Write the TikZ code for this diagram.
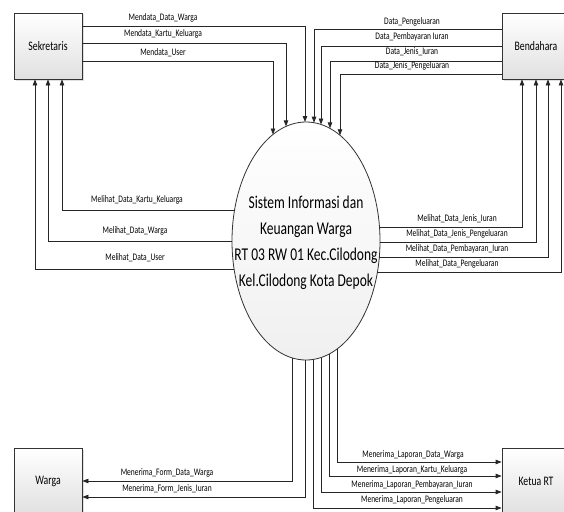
\documentclass[tikz,border=0pt]{standalone}
\usepackage{fontspec}
\setmainfont{Carlito}[FakeStretch=0.75]
\usetikzlibrary{arrows.meta,shapes.geometric,shadows}
\begin{document}
\begin{tikzpicture}[x=1pt,y=-1pt,
  ent/.style={draw=black!80, line width=0.8pt, top color=white, bottom color=black!12,
    minimum width=68pt, minimum height=66pt, inner sep=0pt,
    font=\fontsize{13}{15}\selectfont,
    drop shadow={opacity=0.25,shadow xshift=1.5pt,shadow yshift=-1.5pt}},
  flow/.style={draw=black!85, line width=0.8pt, -{Triangle[length=6pt,width=4.5pt]}},
  lbl/.style={font=\fontsize{10}{11}\selectfont, inner sep=0pt}]
\clip (0,0) rectangle (564,511);
\fill[white] (0,0) rectangle (564,511);

% entities
\node[ent] (sek) at (48,46) {Sekretaris};
\node[ent] (ben) at (536,46) {Bendahara};
\node[ent] (war) at (48,481) {Warga};
\node[ent] (ket) at (536,481) {Ketua RT};

% process
\node[ellipse, draw=black!80, line width=0.8pt, top color=white, bottom color=black!6,
  minimum width=148pt, minimum height=238pt, inner sep=0pt] (sys) at (306,241) {};
\node[align=center, inner sep=0pt, font=\fontsize{18}{26}\selectfont] (systxt) at (306,243)
  {Sistem Informasi dan\\Keuangan Warga\\RT 03 RW 01 Kec.Cilodong\\Kel.Cilodong Kota Depok};

% points on the ellipse border
\coordinate (t1) at (305,122);
\coordinate (t2) at (286,126.4);
\coordinate (t3) at (273,134.5);
\coordinate (t4) at (314,122.7);
\coordinate (t5) at (321,124.5);
\coordinate (t6) at (330,128.4);
\coordinate (t7) at (340,135.3);
\coordinate (l1) at (234.6,210);
\coordinate (l2) at (232,241);
\coordinate (l3) at (234.1,269);
\coordinate (r1) at (379.5,227);
\coordinate (r2) at (380,242);
\coordinate (r3) at (379.3,257);
\coordinate (r4) at (377.4,272);
\coordinate (b1) at (292,357.8);
\coordinate (b2) at (305,360);
\coordinate (b3) at (337,349);
\coordinate (b4) at (329,354);
\coordinate (b5) at (321,357.5);
\coordinate (b6) at (313,359.5);

% Sekretaris -> system
\draw[flow] (sek.east |- 0,26) -| (t1);
\draw[flow] (sek.east |- 0,43) -| (t2);
\draw[flow] (sek.east |- 0,61) -| (t3);
\node[lbl] (m1) at (163,18) {Mendata\_Data\_Warga};
\node[lbl] (m2) at (163,34) {Mendata\_Kartu\_Keluarga};
\node[lbl] (m3) at (163,53) {Mendata\_User};

% Bendahara -> system
\draw[flow] (ben.west |- 0,29) -| (t4);
\draw[flow] (ben.west |- 0,46) -| (t5);
\draw[flow] (ben.west |- 0,61) -| (t6);
\draw[flow] (ben.west |- 0,74) -| (t7);
\node[lbl] (d1) at (412,22) {Data\_Pengeluaran};
\node[lbl] (d2) at (412,37) {Data\_Pembayaran Iuran};
\node[lbl] (d3) at (412,52) {Data\_Jenis\_Iuran};
\node[lbl] (d4) at (412,66) {Data\_Jenis\_Pengeluaran};

% system -> Sekretaris
\draw[flow] (l1) -| (sek.south -| 62,0);
\draw[flow] (l2) -| (sek.south -| 48,0);
\draw[flow] (l3) -| (sek.south -| 35,0);
\node[lbl] (s1) at (137,200) {Melihat\_Data\_Kartu\_Keluarga};
\node[lbl] (s2) at (135,231) {Melihat\_Data\_Warga};
\node[lbl] (s3) at (135,258) {Melihat\_Data\_User};

% system -> Bendahara
\draw[flow] (r1) -| (ben.south -| 522,0);
\draw[flow] (r2) -| (ben.south -| 536,0);
\draw[flow] (r3) -| (ben.south -| 548,0);
\draw[flow] (r4) -| (ben.south -| 561,0);
\node[lbl] (q1) at (457,219) {Melihat\_Data\_Jenis\_Iuran};
\node[lbl] (q2) at (457,234) {Melihat\_Data\_Jenis\_Pengeluaran};
\node[lbl] (q3) at (457,249) {Melihat\_Data\_Pembayaran\_Iuran};
\node[lbl] (q4) at (457,264) {Melihat\_Data\_Pengeluaran};

% system -> Warga
\draw[flow] (b1) |- (war.east |- 0,481);
\draw[flow] (b2) |- (war.east |- 0,497);
\node[lbl] (w1) at (167,473) {Menerima\_Form\_Data\_Warga};
\node[lbl] (w2) at (167,489) {Menerima\_Form\_Jenis\_Iuran};

% system -> Ketua RT
\draw[flow] (b3) |- (ket.west |- 0,462);
\draw[flow] (b4) |- (ket.west |- 0,476);
\draw[flow] (b5) |- (ket.west |- 0,492);
\draw[flow] (b6) |- (ket.west |- 0,508);
\node[lbl] (k1) at (413,455) {Menerima\_Laporan\_Data\_Warga};
\node[lbl] (k2) at (412,470) {Menerima\_Laporan\_Kartu\_Keluarga};
\node[lbl] (k3) at (412,485) {Menerima\_Laporan\_Pembayaran\_Iuran};
\node[lbl] (k4) at (412,500) {Menerima\_Laporan\_Pengeluaran};
\end{tikzpicture}
\end{document}
